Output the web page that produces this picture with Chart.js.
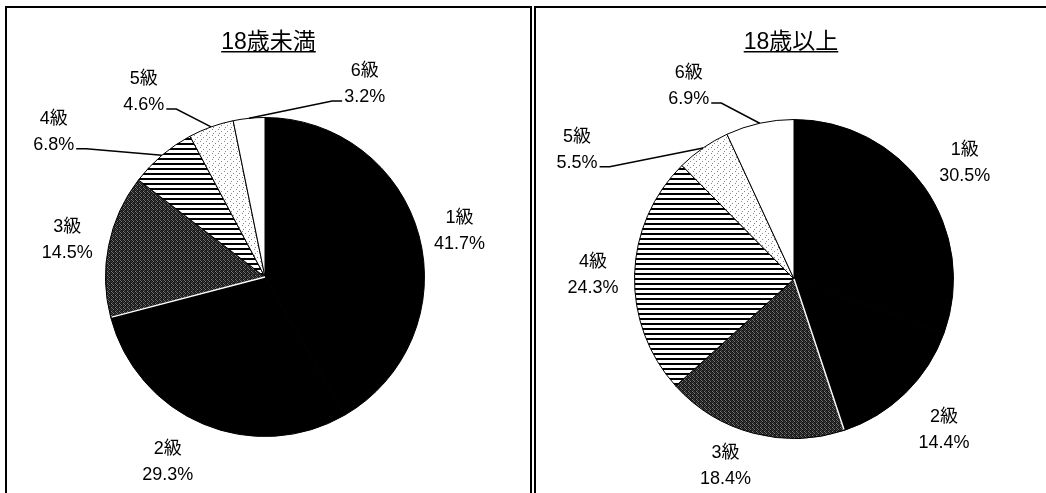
<!DOCTYPE html>
<html>
<head>
<meta charset="utf-8">
<script src="https://cdn.jsdelivr.net/npm/chart.js@4.4.1/dist/chart.umd.min.js"></script>
<style>
  body { margin: 0; background: #fff; width: 1046px; height: 493px; overflow: hidden; position: relative; }
  .panel { position: absolute; top: 6px; border: 2px solid #000; border-bottom: none; height: 485px; }
  #p1 { left: 5px; width: 523px; }
  #p2 { left: 534px; width: 510px; border-right: none; }
</style>
</head>
<body>
<div class="panel" id="p1"><canvas id="chartUnder"></canvas></div>
<div class="panel" id="p2"><canvas id="chartOver"></canvas></div>
<script>
// data
const grades = ['1級', '2級', '3級', '4級', '5級', '6級'];
const under18 = [41.7, 29.3, 14.5, 6.8, 4.6, 3.2];
const over18 = [30.5, 14.4, 18.4, 24.3, 5.5, 6.9];
const titles = ['18歳未満', '18歳以上'];

// where each label sits, in units of the pie radius from its centre
const under18Spots = [[1.22, -0.29], [-0.61, 1.16], [-1.24, -0.23], [-1.325, -0.91], [-0.76, -1.16], [0.625, -1.21]];
const over18Spots = [[1.07, -0.725], [0.94, 0.95], [-0.43, 1.175], [-1.26, -0.025], [-1.36, -0.81], [-0.66, -1.21]];
const under18Leaders = [false, false, false, true, true, true];
const over18Leaders = [false, false, false, false, true, true];

const FONT = "'Liberation Sans', Arial, 'Noto Sans CJK JP', sans-serif";

function makePattern(w, h, paint) {
  const c = document.createElement('canvas');
  c.width = w; c.height = h;
  const g = c.getContext('2d');
  paint(g);
  return g.createPattern(c, 'repeat');
}

// dark speckled grey (3級)
const darkDots = makePattern(4, 4, g => {
  const tones = ['#111', '#6a6a6a', '#1a1a1a', '#333',
                 '#3a3a3a', '#111', '#777', '#1a1a1a',
                 '#1a1a1a', '#4a4a4a', '#111', '#2a2a2a',
                 '#808080', '#1a1a1a', '#333', '#111'];
  tones.forEach((t, i) => { g.fillStyle = t; g.fillRect(i % 4, Math.floor(i / 4), 1, 1); });
});
// horizontal stripes (4級)
const stripes = makePattern(4, 5, g => {
  g.fillStyle = '#fff'; g.fillRect(0, 0, 4, 5);
  g.fillStyle = '#000'; g.fillRect(0, 0, 4, 2);
});
// sparse light dots (5級)
const lightDots = makePattern(6, 6, g => {
  g.fillStyle = '#fff'; g.fillRect(0, 0, 6, 6);
  g.fillStyle = '#888'; g.fillRect(1, 1, 1, 1); g.fillRect(4, 3, 1, 1); g.fillRect(2, 5, 1, 1);
});

const fills = ['#000', '#000', darkDots, stripes, lightDots, '#fff'];

const gradeLabels = {
  id: 'gradeLabels',
  afterDatasetsDraw(chart, args, opts) {
    const {ctx} = chart;
    const meta = chart.getDatasetMeta(0);
    const values = chart.data.datasets[0].data;
    ctx.save();

    // white seam between the black slices and 3級
    const a3 = meta.data[2];
    ctx.strokeStyle = '#fff';
    ctx.lineWidth = 1.5;
    ctx.beginPath();
    ctx.moveTo(a3.x, a3.y);
    ctx.lineTo(a3.x + Math.cos(a3.startAngle) * (a3.outerRadius - 1), a3.y + Math.sin(a3.startAngle) * (a3.outerRadius - 1));
    ctx.stroke();

    // title with underline
    ctx.fillStyle = '#000';
    ctx.font = '23px ' + FONT;
    ctx.textAlign = 'center';
    ctx.textBaseline = 'alphabetic';
    const tx = chart.width / 2;
    ctx.fillText(opts.title, tx, 41);
    const tw = ctx.measureText(opts.title).width;
    ctx.fillRect(tx - tw / 2, 43, tw, 1.5);

    ctx.font = '18px ' + FONT;
    ctx.textBaseline = 'middle';
    ctx.strokeStyle = '#000';
    ctx.lineWidth = 1.5;
    meta.data.forEach((arc, i) => {
      const r = arc.outerRadius;
      const lx = arc.x + opts.spots[i][0] * r;
      const ly = arc.y + opts.spots[i][1] * r;
      const pct = values[i].toFixed(1) + '%';
      ctx.fillText(chart.data.labels[i], lx, ly - 13);
      ctx.fillText(pct, lx, ly + 13);
      if (opts.leaders[i]) {
        const mid = (arc.startAngle + arc.endAngle) / 2;
        const ex = arc.x + Math.cos(mid) * r;
        const ey = arc.y + Math.sin(mid) * r;
        const half = ctx.measureText(pct).width / 2;
        const dir = ex > lx ? 1 : -1;
        const sx = lx + dir * (half + 2);
        const sy = ly + 17;
        ctx.beginPath();
        ctx.moveTo(sx, sy);
        ctx.lineTo(sx + dir * 10, sy);
        ctx.lineTo(ex, ey);
        ctx.stroke();
      }
    });
    ctx.restore();
  }
};

function pieChart(id, values, title, spots, leaders, padding) {
  return new Chart(document.getElementById(id), {
    type: 'pie',
    data: {
      labels: grades,
      datasets: [{
        data: values,
        backgroundColor: fills,
        borderColor: '#000',
        borderWidth: 1,
        hoverOffset: 0
      }]
    },
    options: {
      responsive: true,
      maintainAspectRatio: false,
      animation: false,
      events: [],
      layout: { padding: padding },
      plugins: {
        legend: { display: false },
        tooltip: { enabled: false },
        gradeLabels: { title: title, spots: spots, leaders: leaders }
      }
    },
    plugins: [gradeLabels]
  });
}

pieChart('chartUnder', under18, titles[0], under18Spots, under18Leaders, {top: 109, bottom: 56, left: 0, right: 7});
pieChart('chartOver', over18, titles[1], over18Spots, over18Leaders, {top: 111, bottom: 54, left: 6, right: 0});
</script>
</body>
</html>
